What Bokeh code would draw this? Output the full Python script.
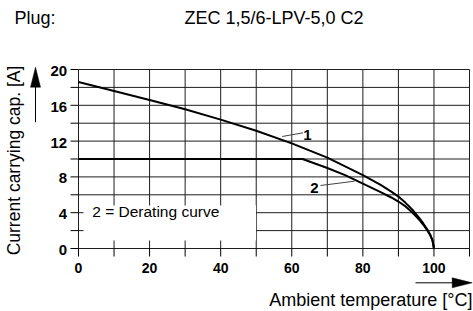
from bokeh.plotting import figure
from bokeh.models import Range1d
from bokeh.core.properties import value
from bokeh.embed import file_html
from bokeh.resources import INLINE
import math

# ---- data ----
temp1 = [0, 10, 20, 30, 40, 50, 60, 70, 80, 85, 88, 90, 92, 94, 96, 97, 98, 99, 99.6, 100]
curr1 = [18.6, 17.6, 16.6, 15.55, 14.4, 13.15, 11.75, 10.15, 8.2, 7.1, 6.35, 5.8, 5.1, 4.3, 3.35, 2.8, 2.2, 1.5, 0.9, 0]
temp2 = [0, 63, 70, 75, 80, 85, 88, 90, 92, 94, 96, 97, 98, 99, 99.6, 100]
curr2 = [10, 10, 9.0, 8.2, 7.25, 6.3, 5.7, 5.25, 4.7, 4.0, 3.15, 2.65, 2.1, 1.45, 0.88, 0]

x_ticks = [0, 10, 20, 30, 40, 50, 60, 70, 80, 90, 100, 110]
x_tick_labels = ["0", "", "20", "", "40", "", "60", "", "80", "", "100", ""]
y_ticks = [0, 2, 4, 6, 8, 10, 12, 14, 16, 18, 20]
y_tick_labels = ["0", "", "4", "", "8", "", "12", "", "16", "", "20"]

title_left = "Plug:"
title_right = "ZEC 1,5/6-LPV-5,0 C2"
x_label = "Ambient temperature [°C]"
y_label = "Current carrying cap. [A]"
legend_note = "2 = Derating curve"
curve_names = ["1", "2"]

FONT = "Liberation Sans"
W, H = 473, 311

# plot area in canvas pixels: x 0..110 -> 78..469, y 0..20 -> 248..69
PX0, PX1, PY0, PY1 = 78.0, 469.0, 248.0, 69.0
SX = (PX1 - PX0) / 110.0
SY = (PY0 - PY1) / 20.0

def X(px):
    return (px - PX0) / SX

def Y(py):
    return (PY0 - py) / SY

p = figure(width=W, height=H, output_backend="svg", toolbar_location=None,
           x_axis_type=None, y_axis_type=None,
           x_range=Range1d(X(0), X(W)), y_range=Range1d(Y(H), Y(0)),
           min_border=0, min_border_left=0, min_border_right=0,
           min_border_top=0, min_border_bottom=0)
p.outline_line_color = None
p.background_fill_color = "white"
p.border_fill_color = "white"
p.xgrid.visible = False
p.ygrid.visible = False

xmin, xmax = x_ticks[0], x_ticks[-1]
ymin, ymax = y_ticks[0], y_ticks[-1]

# grid lines (chart area only)
GRID = "#1e1e1e"
p.segment(x0=x_ticks, y0=[ymin] * len(x_ticks), x1=x_ticks, y1=[ymax] * len(x_ticks),
          line_color=GRID, line_width=1)
p.segment(x0=[xmin] * len(y_ticks), y0=y_ticks, x1=[xmax] * len(y_ticks), y1=y_ticks,
          line_color=GRID, line_width=1)

# tick marks
TICK = 8
p.segment(x0=x_ticks, y0=[ymin] * len(x_ticks), x1=x_ticks, y1=[Y(PY0 + TICK)] * len(x_ticks),
          line_color="black", line_width=1)
p.segment(x0=[X(PX0 - TICK)] * len(y_ticks), y0=y_ticks, x1=[xmin] * len(y_ticks), y1=y_ticks,
          line_color="black", line_width=1)

# tick labels
p.text(x=x_ticks, y=[Y(267.5)] * len(x_ticks), text=x_tick_labels,
       text_font=value(FONT), text_font_style="bold", text_font_size="14px",
       text_align="center", text_baseline="middle", text_color="black")
p.text(x=[X(66.7)] * len(y_ticks), y=[t - 1.5 / SY for t in y_ticks], text=y_tick_labels,
       text_font=value(FONT), text_font_style="bold", text_font_size="15px",
       text_align="right", text_baseline="middle", text_color="black")

# white box behind note
p.quad(left=X(83), right=X(255.5), bottom=Y(240), top=Y(205),
       fill_color="white", line_color=None)
p.text(x=[X(91.7)], y=[Y(211.2)], text=[legend_note], text_font=value(FONT),
       text_font_size="15.5px", text_color="black", text_baseline="middle",
       text_align="left")

# curves
p.line(temp1, curr1, line_color="black", line_width=2, line_join="round")
p.line(temp2, curr2, line_color="black", line_width=2, line_join="round")

# curve labels with leader lines
p.segment(x0=[X(281.7), X(320)], y0=[Y(136), Y(185)],
          x1=[X(302.5), X(354)], y1=[Y(132.3), Y(180.7)],
          line_color="#444444", line_width=1)
p.text(x=[X(307), X(314)], y=[Y(134), Y(187)], text=curve_names,
       text_font=value(FONT), text_font_style="bold", text_font_size="15px",
       text_align="center", text_baseline="middle", text_color="black")

# titles / axis labels
p.text(x=[X(14)], y=[Y(17.5)], text=[title_left], text_font=value(FONT),
       text_font_size="18px", text_baseline="middle", text_align="left", text_color="black")
p.text(x=[X(184)], y=[Y(17.5)], text=[title_right], text_font=value(FONT),
       text_font_size="18px", text_baseline="middle", text_align="left", text_color="black")
p.text(x=[X(472)], y=[Y(299.7)], text=[x_label], text_font=value(FONT),
       text_font_size="18px", text_baseline="middle", text_align="right", text_color="black")
p.text(x=[X(13.5)], y=[Y(160)], text=[y_label], text_font=value(FONT),
       text_font_size="17.5px", text_baseline="middle", text_align="center",
       angle=math.pi / 2, text_color="black")

# axis arrows
p.segment(x0=[X(35), X(415)], y0=[Y(121.7), Y(282.3)], x1=[X(35), X(453)], y1=[Y(85), Y(282.3)],
          line_color="black", line_width=1)
p.patches(xs=[[X(35), X(30), X(40)], [X(471.7), X(451.7), X(451.7)]],
          ys=[[Y(66.7), Y(86.7), Y(86.7)], [Y(282.3), Y(277.3), Y(287.3)]],
          fill_color="black", line_color="black", line_width=0.5)

open("out.html", "w").write(file_html(p, INLINE))
